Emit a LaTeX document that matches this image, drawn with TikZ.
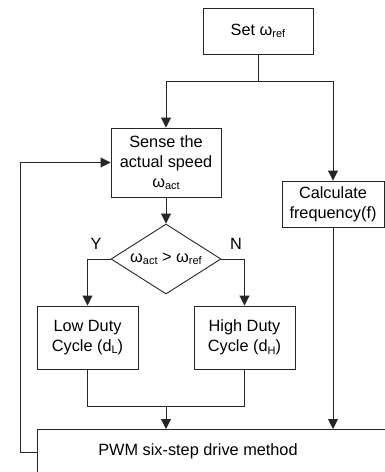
\documentclass[tikz,border=0pt]{standalone}
\usepackage{fontspec}
\setmainfont{Liberation Sans}
\usetikzlibrary{shapes.geometric,arrows.meta}
\newcommand{\lsub}[1]{{\fontsize{11}{11}\selectfont\raisebox{-2.5pt}{#1}}}
\begin{document}
\begin{tikzpicture}[x=1pt,y=-1pt,
  every node/.style={font=\fontsize{16.3}{20}\selectfont},
  box/.style={draw=black!85,line width=0.9pt,inner sep=0pt,align=center},
  dia/.style={draw=black!85,line width=0.9pt,shape=diamond,inner sep=0pt,minimum width=110pt,minimum height=70pt,aspect=1.57},
  ln/.style={draw=black!85,line width=0.9pt},
  arr/.style={ln,-{Triangle[width=10pt,length=10pt]}}]
\useasboundingbox (0,0) rectangle (385,472);
\clip (0,0) rectangle (385,472);
\node[box,minimum width=110pt,minimum height=46pt] (set) at (258,31) {Set ω\lsub{ref}};
\node[box,minimum width=110pt,minimum height=69pt] (sense) at (166,162.5) {Sense the\\actual speed\\ω\lsub{act}};
\node[box,minimum width=102pt,minimum height=46pt] (calc) at (333,204) {Calculate\\frequency(f)};
\node[dia] (dec) at (166,259) {};
\node (dectext) at (166,259) {ω\lsub{act} > ω\lsub{ref}};
\node (ylab) at (96,244) {Y};
\node (nlab) at (236,244) {N};
\node[box,minimum width=101pt,minimum height=63pt] (low) at (87.5,337.5) {Low Duty\\Cycle (d\lsub{L})};
\node[box,minimum width=101pt,minimum height=63pt] (high) at (244.5,337.5) {High Duty\\Cycle (d\lsub{H})};
\node[box,minimum width=370pt,minimum height=70pt,anchor=north west] (pwm) at (37,429) {};
\node (pwmtext) at (198,451) {PWM six-step drive method};
\coordinate (split) at (258,81);
\coordinate (merge) at (166,406);
\coordinate (loopend) at (37,452);
\draw[ln] (set.south) -- (split);
\draw[arr] (split) -| (sense.north);
\draw[arr] (split) -| (calc.north);
\draw[arr] (sense.south) -- (dec.north);
\draw[arr] (dec.west) -| (low.north);
\draw[arr] (dec.east) -| (high.north);
\draw[ln] (low.south) |- (merge);
\draw[ln] (high.south) |- (merge);
\draw[arr] (merge) -- (merge |- pwm.north);
\draw[arr] (calc.south) -- (calc.south |- pwm.north);
\draw[arr] (loopend) -- (20,452) -- (20,162.5) -- (sense.west);
\end{tikzpicture}
\end{document}
